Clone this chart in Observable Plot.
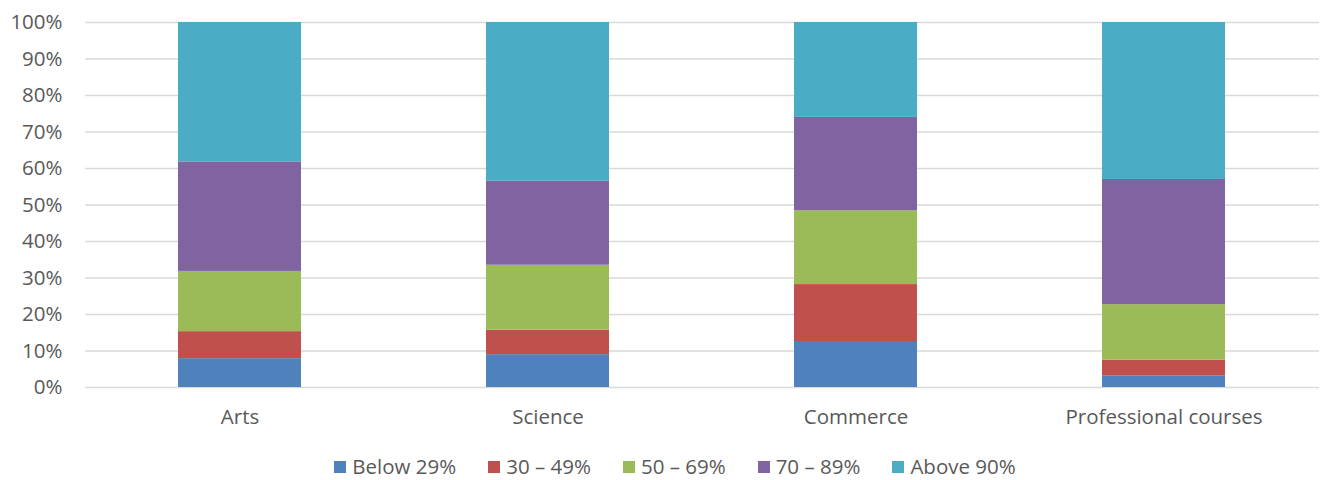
<!DOCTYPE html>
<html>
<head>
<meta charset="utf-8">
<script src="https://cdn.jsdelivr.net/npm/d3@7"></script>
<script src="https://cdn.jsdelivr.net/npm/@observablehq/plot@0.6"></script>
<style>
  html, body { margin: 0; padding: 0; background: #fff; overflow: hidden; }
  #wrap { position: relative; width: 1320px; height: 480px; font-family: "Open Sans", sans-serif; color: #595959; }
  #chart svg { display: block; }
  #legend { position: absolute; left: 0; top: 452px; width: 1290px; height: 28px; line-height: 28px; padding-left: 30px; display: flex; justify-content: center; align-items: center; gap: 32px; font-size: 20.5px; color: #595959; }
  .item { display: flex; align-items: center; gap: 6px; }
  .sw { width: 12px; height: 12px; display: inline-block; position: relative; top: 1px; }
</style>
</head>
<body>
<div id="wrap">
  <div id="chart"></div>
  <div id="legend"></div>
</div>
<script>
const categories = ["Arts", "Science", "Commerce", "Professional courses"];
const seriesNames = ["Below 29%", "30 – 49%", "50 – 69%", "70 – 89%", "Above 90%"];
const seriesColors = ["#4F81BD", "#C0504D", "#9BBB59", "#8064A2", "#4BACC6"];
const below29 = [7.9, 9.0, 12.6, 3.1];
const from30to49 = [7.4, 6.7, 15.6, 4.4];
const from50to69 = [16.5, 17.8, 20.2, 15.2];
const from70to89 = [30.0, 23.0, 25.6, 34.3];
const above90 = [38.2, 43.5, 26.0, 43.0];
const yTicks = [0, 10, 20, 30, 40, 50, 60, 70, 80, 90, 100];

const seriesValues = [below29, from30to49, from50to69, from70to89, above90];
const data = [];
seriesNames.forEach((s, si) => {
  categories.forEach((c, ci) => {
    data.push({category: c, series: s, value: seriesValues[si][ci]});
  });
});

const chart = Plot.plot({
  width: 1320,
  height: 440,
  marginTop: 22,
  marginBottom: 53,
  marginLeft: 85,
  marginRight: 1,
  style: {fontFamily: "'Open Sans', sans-serif", fontSize: "20.5px", color: "#595959", background: "#fff"},
  x: {domain: categories, paddingInner: 0.6, paddingOuter: 0.3, label: null},
  y: {domain: [0, 100], label: null},
  color: {domain: seriesNames, range: seriesColors},
  marks: [
    Plot.ruleY(yTicks, {stroke: "#D9D9D9", strokeWidth: 1.3}),
    Plot.barY(data, Plot.stackY({
      x: "category",
      y: "value",
      fill: "series",
      order: seriesNames
    })),
    Plot.axisY({ticks: yTicks, tickSize: 0, tickPadding: 23, tickFormat: d => d + "%", label: null, fill: "#595959"}),
    Plot.axisX({tickSize: 0, tickPadding: 22, label: null, fill: "#595959"})
  ]
});
document.getElementById("chart").appendChild(chart);

const legend = document.getElementById("legend");
seriesNames.forEach((s, i) => {
  const item = document.createElement("div");
  item.className = "item";
  const sw = document.createElement("span");
  sw.className = "sw";
  sw.style.background = seriesColors[i];
  const t = document.createElement("span");
  t.textContent = s;
  item.appendChild(sw);
  item.appendChild(t);
  legend.appendChild(item);
});
</script>
</body>
</html>
